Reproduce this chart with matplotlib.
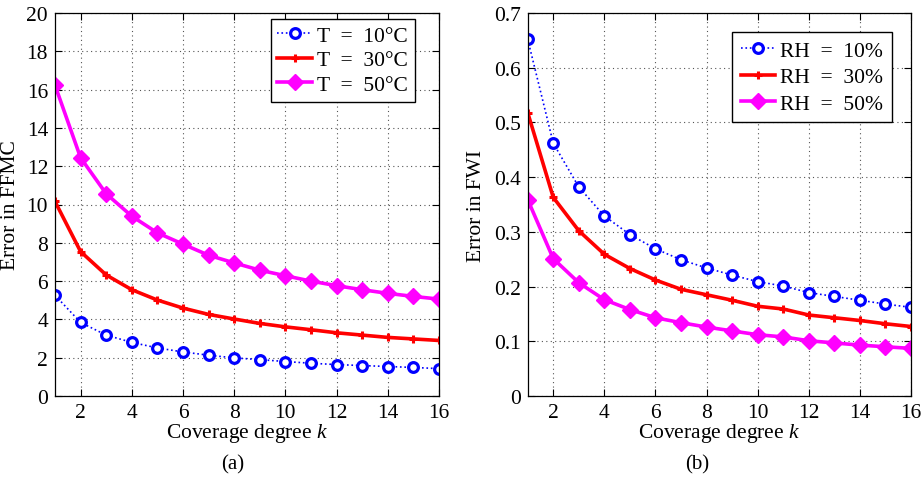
import matplotlib
matplotlib.use("Agg")
import matplotlib.pyplot as plt
from matplotlib.ticker import FuncFormatter, MultipleLocator

plt.rcParams['font.family'] = ['Liberation Serif', 'DejaVu Serif']
plt.rcParams['mathtext.fontset'] = 'custom'
plt.rcParams['mathtext.rm'] = 'Liberation Serif'
plt.rcParams['mathtext.it'] = 'Liberation Serif:italic'

k = list(range(1, 17))

ffmc_t10 = [5.26, 3.84, 3.18, 2.80, 2.51, 2.30, 2.13, 1.99, 1.90, 1.80, 1.71, 1.64, 1.59, 1.54, 1.49, 1.43]
ffmc_t30 = [10.16, 7.54, 6.32, 5.55, 5.01, 4.59, 4.26, 4.02, 3.79, 3.61, 3.46, 3.30, 3.18, 3.06, 2.98, 2.90]
ffmc_t50 = [16.23, 12.44, 10.56, 9.39, 8.52, 7.93, 7.35, 6.95, 6.57, 6.28, 6.00, 5.76, 5.55, 5.36, 5.20, 5.06]

fwi_rh10 = [0.652, 0.462, 0.382, 0.329, 0.295, 0.269, 0.249, 0.234, 0.221, 0.209, 0.201, 0.189, 0.182, 0.175, 0.168, 0.162]
fwi_rh30 = [0.518, 0.363, 0.302, 0.259, 0.233, 0.212, 0.195, 0.185, 0.175, 0.164, 0.159, 0.148, 0.143, 0.138, 0.132, 0.127]
fwi_rh50 = [0.359, 0.251, 0.207, 0.176, 0.158, 0.143, 0.134, 0.126, 0.119, 0.112, 0.108, 0.101, 0.097, 0.093, 0.090, 0.087]

labels_a = ['T  =  10°C', 'T  =  30°C', 'T  =  50°C']
labels_b = ['RH  =  10%', 'RH  =  30%', 'RH  =  50%']

fig = plt.figure(figsize=(9.23, 4.89), dpi=100)
ax1 = fig.add_axes([55/923, 92/489, 384/923, 383/489])
ax2 = fig.add_axes([527.7/923, 92/489, 383.3/923, 383/489])

fs = 15.5

def style(ax, series, labels, ylim, ystep, ylabel, legend_loc, ylab_x, lspace, bpad):
    s1, s2, s3 = series
    ax.plot(k, s1, color='blue', linestyle=':', linewidth=1.2, marker='o', markersize=7,
            markerfacecolor='white', markeredgecolor='blue', markeredgewidth=2.3, label=labels[0])
    ax.plot(k, s2, color='red', linestyle='-', linewidth=2.6, marker='+', markersize=6,
            markeredgewidth=2.2, label=labels[1])
    ax.plot(k, s3, color='magenta', linestyle='-', linewidth=2.6, marker='D', markersize=8,
            markerfacecolor='magenta', markeredgecolor='magenta', label=labels[2])
    ax.set_xlim(1, 16)
    ax.set_ylim(*ylim)
    ax.xaxis.set_major_locator(MultipleLocator(2))
    ax.yaxis.set_major_locator(MultipleLocator(ystep))
    ax.yaxis.set_major_formatter(FuncFormatter(lambda v, p: '%g' % round(v, 6)))
    ax.grid(True, linestyle=(0, (1, 3)), color='#555555', linewidth=0.8)
    ax.tick_params(direction='in', top=True, right=True, labelsize=fs, length=5, width=0.8, pad=5)
    for sp in ax.spines.values():
        sp.set_linewidth(0.9)
    ax.set_xlabel('Coverage degree $k$', fontsize=fs, labelpad=-1)
    ax.set_ylabel(ylabel, fontsize=fs)
    ax.yaxis.set_label_coords(ylab_x, 0.5)
    leg = ax.legend(loc='upper right', bbox_to_anchor=legend_loc, fontsize=fs, frameon=True,
                    fancybox=False, edgecolor='black', framealpha=1, handlelength=1.6,
                    handletextpad=0.25, borderpad=bpad, labelspacing=lspace, borderaxespad=0)
    leg.get_frame().set_linewidth(1.0)

style(ax1, (ffmc_t10, ffmc_t30, ffmc_t50), labels_a, (0, 20), 2, 'Error in FFMC',
      ((415 - 55)/384, 1 - 6/383), -0.091, 0.2, 0.32)
style(ax2, (fwi_rh10, fwi_rh30, fwi_rh50), labels_b, (0, 0.7), 0.1, 'Error in FWI',
      ((892 - 527.7)/383.3, 1 - 19/383), -0.109, 0.3, 0.4)

fig.text(233/923, 1 - 465/489, '(a)', ha='center', va='center', fontsize=15)
fig.text(697/923, 1 - 465/489, '(b)', ha='center', va='center', fontsize=15)

fig.savefig('out.png', dpi=100)
